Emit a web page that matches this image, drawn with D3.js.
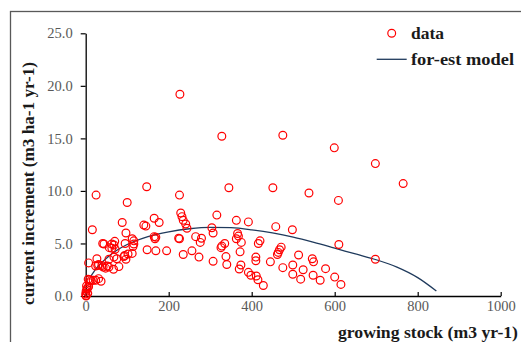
<!DOCTYPE html>
<html><head><meta charset="utf-8">
<script src="https://cdn.jsdelivr.net/npm/d3@7"></script>
<style>body{margin:0;background:#fff;} svg{display:block;}</style>
</head><body>
<script>
// observed data (growing stock, current increment)
const stock = [227,328,475,599,698,765,147,345,451,25,226,538,609,100,
229,232,235,241,244,316,363,392,304,307,16,88,97,140,145,165,177,458,498,
165,169,167,112,116,224,226,265,279,276,366,368,363,375,420,416,610,335,328,326,41,44,63,68,70,95,116,57,63,71,114,
471,467,464,462,513,410,410,445,546,549,698,195,148,169,256,235,273,372,338,307,112,102,94,92,97,68,75,56,27,7,
475,524,578,499,340,374,370,392,398,411,415,499,548,600,518,565,428,615,80,52,67,24,29,31,39,42,48,56,6,10,18,24,31,37,
2,4,1,0,1,9,13,7,3,5,1];
const increment = [19.2,15.2,15.3,14.1,12.6,10.7,10.4,10.3,10.3,9.6,9.6,9.8,9.1,8.9,
7.9,7.55,7.2,6.85,6.45,7.7,7.2,7.05,6.5,6.0,6.3,7.0,6.0,6.75,6.65,7.4,7.0,6.6,6.3,
5.65,5.6,5.45,5.45,5.25,5.5,5.45,5.65,5.5,5.1,5.95,5.7,5.45,5.1,5.25,5.0,4.9,5.0,4.75,4.6,5.0,4.95,4.95,4.85,5.2,5.0,4.95,4.6,4.55,4.45,4.7,
4.65,4.4,4.15,3.95,3.9,3.7,3.35,3.25,3.55,3.25,3.5,4.3,4.4,4.3,4.3,3.95,3.7,4.2,3.75,3.3,4.05,4.0,3.85,3.75,3.5,3.7,3.55,3.5,3.55,3.15,
2.7,2.5,2.6,2.95,3.0,2.95,2.57,2.25,1.97,1.9,1.55,2.07,1.97,1.8,1.6,1.5,1.0,1.1,2.8,2.85,2.55,2.85,2.9,3.0,2.9,2.75,2.65,2.75,1.6,1.55,1.5,1.5,1.65,1.4,
0.95,0.75,0.45,0.2,0.05,1.27,1.46,0.89,0.63,0.25,0.0];
// model curve
const modelStock = [12,25,50,75,100,150,200,250,300,350,400,450,500,550,600,650,700,750,800,845];
const modelIncrement = [1.85,2.6,3.6,4.35,4.9,5.65,6.1,6.4,6.54,6.5,6.3,6.0,5.6,5.1,4.55,4.0,3.45,2.75,1.75,0.48];
const xTicks = [0,200,400,600,800,1000];
const yTicks = [0,5,10,15,20,25];
const legendLabels = ["data","for-est model"];
const xTitle = "growing stock (m3 yr-1)";
const yTitle = "current increment (m3 ha-1 yr-1)";

const W=521,H=342;
const svg=d3.select("body").append("svg").attr("width",W).attr("height",H);
const serif="'Liberation Serif','Times New Roman',serif";

svg.append("rect").attr("x",10.5).attr("y",11.5).attr("width",600).attr("height",400)
  .attr("fill","none").attr("stroke","#595959").attr("stroke-width",1.3);

const x=d3.scaleLinear().domain([0,1000]).range([85.7,500.7]);
const y=d3.scaleLinear().domain([0,25]).range([296,33.3]);

const gy=svg.append("g").attr("transform","translate(85.7,0)")
  .call(d3.axisLeft(y).tickValues(yTicks).tickFormat(d3.format(".1f")).tickSize(5).tickSizeOuter(0).tickPadding(8));
const gx=svg.append("g").attr("transform","translate(0,296)")
  .call(d3.axisBottom(x).tickValues(xTicks).tickFormat(d3.format("d")).tickSize(-4).tickSizeOuter(0).tickPadding(5));
[gx,gy].forEach(g=>{
  g.select(".domain").attr("stroke","#000").attr("stroke-width",1.3);
  g.selectAll(".tick line").attr("stroke","#000").attr("stroke-width",1.2);
  g.selectAll(".tick text").attr("fill","#595959").attr("font-family",serif).attr("font-size","14.5px");
});

const line=d3.line().x((d,i)=>x(modelStock[i])).y((d,i)=>y(modelIncrement[i])).curve(d3.curveMonotoneX);
svg.append("path").datum(modelStock).attr("d",line).attr("fill","none")
  .attr("stroke","#1f3a5c").attr("stroke-width",1.3);

svg.append("g").selectAll("circle").data(stock).join("circle")
  .attr("cx",(d)=>x(d)).attr("cy",(d,i)=>y(increment[i])).attr("r",3.9)
  .attr("fill","none").attr("stroke","#ff0000").attr("stroke-width",1.2);

// legend
svg.append("circle").attr("cx",391.7).attr("cy",33.3).attr("r",3.9).attr("fill","none").attr("stroke","#ff0000").attr("stroke-width",1.2);
svg.append("line").attr("x1",376.7).attr("x2",406.7).attr("y1",59.3).attr("y2",59.3).attr("stroke","#1f3a5c").attr("stroke-width",1.3);
const legW=[33,103];
svg.selectAll("text.leg").data(legendLabels).join("text").attr("class","leg")
  .attr("x",411).attr("y",(d,i)=>33.3+i*26+5.5).text(d=>d)
  .attr("textLength",(d,i)=>legW[i]).attr("lengthAdjust","spacingAndGlyphs")
  .attr("font-family",serif).attr("font-weight","bold").attr("font-size","16.5px").attr("fill","#1a1a1a");

svg.append("text").attr("x",338).attr("y",338).text(xTitle)
  .attr("textLength",180).attr("lengthAdjust","spacingAndGlyphs")
  .attr("font-family",serif).attr("font-weight","bold").attr("font-size","16.5px").attr("fill","#1a1a1a");
svg.append("text").attr("transform","translate(33.5,305) rotate(-90)").text(yTitle)
  .attr("textLength",243).attr("lengthAdjust","spacingAndGlyphs")
  .attr("font-family",serif).attr("font-weight","bold").attr("font-size","16.5px").attr("fill","#1a1a1a");
</script>
</body></html>
